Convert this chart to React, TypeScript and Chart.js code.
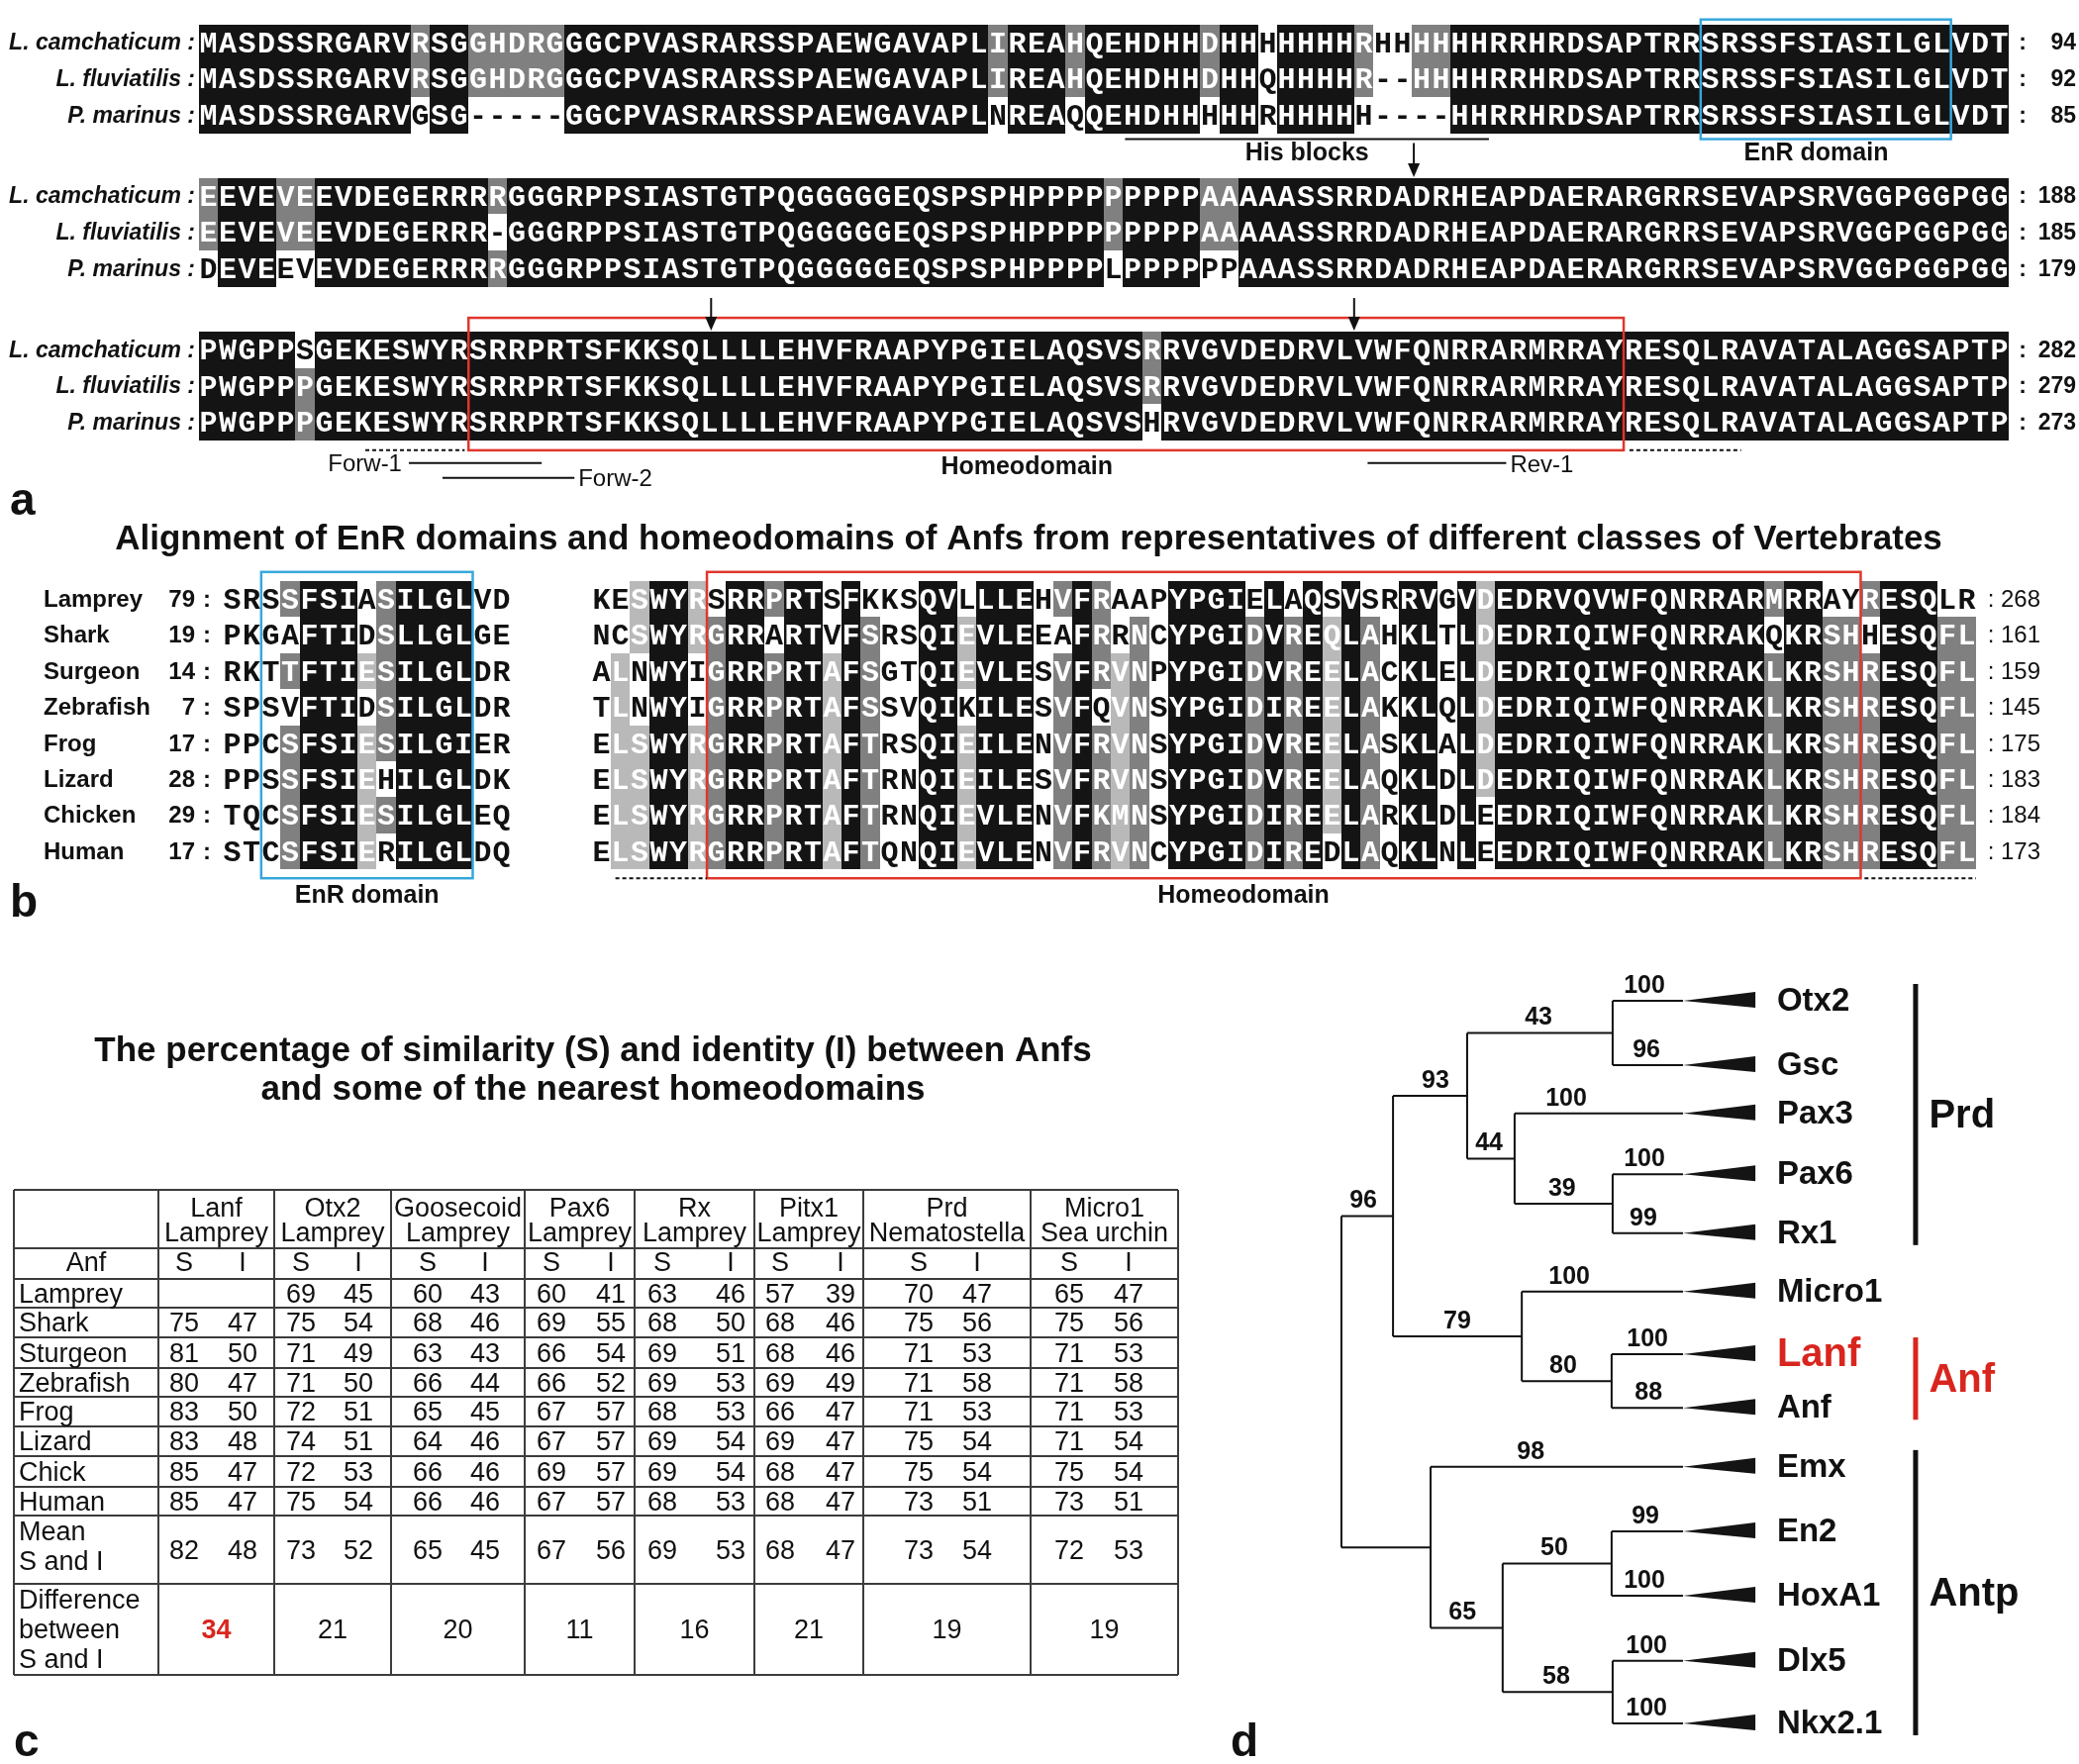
import React, { useEffect, useRef } from 'react';
import { Chart, registerables } from 'chart.js';

Chart.register(...registerables);

const SANS = '"Liberation Sans", Arial, sans-serif';
const MONO = '"Liberation Mono", "Courier New", monospace';
const BLACK = '#141414';
const DARK = '#808080';
const LIGHT = '#b9b9b9';
const RED = '#d8261e';
const BLUE = '#37a7dc';

function rle(spec: string): string {
  let out = '';
  const re = /(\d+)([A-Z.])/g;
  let m: RegExpExecArray | null;
  while ((m = re.exec(spec))) out += m[2].repeat(+m[1]);
  return out;
}

// ---------------- Panel a data ----------------
const aSpecies = ['L. camchaticum :', 'L. fluviatilis :', 'P. marinus :'];
const aBlock1 = [
  ['MASDSSRGARV', 'R', 'SG', 'GHDRG', 'GGCPVASRARSSPAEWGAVAPL', 'I', 'REA', 'H', 'QEHDHH', 'D', 'HH', 'H', 'HHHH', 'R', 'HH', 'HH', 'HHRRHRDSAPTRR', 'SRSSFSIASILGL', 'VDT'].join(''),
  ['MASDSSRGARV', 'R', 'SG', 'GHDRG', 'GGCPVASRARSSPAEWGAVAPL', 'I', 'REA', 'H', 'QEHDHH', 'D', 'HH', 'Q', 'HHHH', 'R', '--', 'HH', 'HHRRHRDSAPTRR', 'SRSSFSIASILGL', 'VDT'].join(''),
  ['MASDSSRGARV', 'G', 'SG', '-----', 'GGCPVASRARSSPAEWGAVAPL', 'N', 'REA', 'Q', 'QEHDHH', 'H', 'HH', 'R', 'HHHH', 'H', '--', '--', 'HHRRHRDSAPTRR', 'SRSSFSIASILGL', 'VDT'].join(''),
];
const aShade1 = [
  rle('11B1G2B5G22B1G3B1G6B1G2B1.4B1G2.2G29B'),
  rle('11B1G2B5G22B1G3B1G6B1G2B1.4B1G2.2G29B'),
  rle('11B1.2B5.22B1.3B1.6B1.2B1.4B1.2.2.29B'),
];
const aBlock2 = [
  ['E', 'EVE', 'V', 'E', 'EVDEGERRR', 'R', 'GGGRPPSIASTGTPQGGGGGEQSPSPH', 'PPPP', 'P', 'PPPP', 'AA', 'AAASSRRDADRHEAPDAERARGRRSEVAPSRVGGPGGPGG'].join(''),
  ['E', 'EVE', 'V', 'E', 'EVDEGERRR', '-', 'GGGRPPSIASTGTPQGGGGGEQSPSPH', 'PPPP', 'P', 'PPPP', 'AA', 'AAASSRRDADRHEAPDAERARGRRSEVAPSRVGGPGGPGG'].join(''),
  ['D', 'EVE', 'E', 'V', 'EVDEGERRR', 'R', 'GGGRPPSIASTGTPQGGGGGEQSPSPH', 'PPPP', 'L', 'PPPP', 'PP', 'AAASSRRDADRHEAPDAERARGRRSEVAPSRVGGPGGPGG'].join(''),
];
const aShade2 = [
  rle('1G3B2G9B1G31B1G4B2G40B'),
  rle('1G3B2G9B1.31B1G4B2G40B'),
  rle('1.3B2.9B1G31B1.4B2.40B'),
];
const aBlock3 = [
  ['PWGPP', 'S', 'GEKESWYR', 'SRRPRTSFKKSQLLLLEHVFRAAPYPGIELAQSVS', 'R', 'RVGVDEDRVLVWFQNRRARMRRAY', 'RESQLRAVATALAGGSAPTP'].join(''),
  ['PWGPP', 'P', 'GEKESWYR', 'SRRPRTSFKKSQLLLLEHVFRAAPYPGIELAQSVS', 'R', 'RVGVDEDRVLVWFQNRRARMRRAY', 'RESQLRAVATALAGGSAPTP'].join(''),
  ['PWGPP', 'P', 'GEKESWYR', 'SRRPRTSFKKSQLLLLEHVFRAAPYPGIELAQSVS', 'H', 'RVGVDEDRVLVWFQNRRARMRRAY', 'RESQLRAVATALAGGSAPTP'].join(''),
];
const aShade3 = [rle('5B1.43B1G44B'), rle('5B1G43B1G44B'), rle('5B1G43B1.44B')];
const aEnds = [
  [94, 92, 85],
  [188, 185, 179],
  [282, 279, 273],
];
// annotation positions, in alignment columns
const aEnrCols = [78, 91];
const aHisCols = [48.1, 67.0];
const aHisArrowCol = 63.1;
const aHomeoCols = [14, 74];
const aHomeoArrowCols = [26.6, 60.0];
const aDotCols = [
  [8.64, 13.8],
  [74.3, 80.1],
];
const aForw1 = [10.9, 17.8];
const aForw2 = [12.65, 19.5];
const aRev1 = [60.7, 67.9];

// ---------------- Panel b data ----------------
const bTitle = 'Alignment of EnR domains and homeodomains of Anfs from representatives of different classes of Vertebrates';
const bNames = ['Lamprey', 'Shark', 'Surgeon', 'Zebrafish', 'Frog', 'Lizard', 'Chicken', 'Human'];
const bStart = [79, 19, 14, 7, 17, 28, 29, 17];
const bEnd = [268, 161, 159, 145, 175, 183, 184, 173];
const bEnr = ['SRSSFSIASILGLVD', 'PKGAFTIDSLLGLGE', 'RKTTFTIESILGLDR', 'SPSVFTIDSILGLDR', 'PPCSFSIESILGIER', 'PPSSFSIEHILGLDK', 'TQCSFSIESILGLEQ', 'STCSFSIERILGLDQ'];
const bHd = [
  'KESWYR' + 'SRRPRTSFKKSQVLLLEHVFRAAPYPGIELAQSVSRRVGVDEDRVQVWFQNRRARMRRAY' + 'RESQLR',
  'NCSWYR' + 'GRRARTVFSRSQIEVLEEAFRRNCYPGIDVREQLAHKLTLDEDRIQIWFQNRRAKQKRSH' + 'HESQFL',
  'ALNWYI' + 'GRRPRTAFSGTQIEVLESVFRVNPYPGIDVREELACKLELDEDRIQIWFQNRRAKLKRSH' + 'RESQFL',
  'TLNWYI' + 'GRRPRTAFSSVQIKILESVFQVNSYPGIDIREELAKKLQLDEDRIQIWFQNRRAKLKRSH' + 'RESQFL',
  'ELSWYR' + 'GRRPRTAFTRSQIEILENVFRVNSYPGIDVREELASKLALDEDRIQIWFQNRRAKLKRSH' + 'RESQFL',
  'ELSWYR' + 'GRRPRTAFTRNQIEILESVFRVNSYPGIDVREELAQKLDLDEDRIQIWFQNRRAKLKRSH' + 'RESQFL',
  'ELSWYR' + 'GRRPRTAFTRNQIEVLENVFKMNSYPGIDIREELARKLDLEEDRIQIWFQNRRAKLKRSH' + 'RESQFL',
  'ELSWYR' + 'GRRPRTAFTQNQIEVLENVFRVNCYPGIDIREDLAQKLNLEEDRIQIWFQNRRAKLKRSH' + 'RESQFL',
];
const K8 = 'BBBBBBBB';
const W8 = '........';
// shading per column (8 rows each)
const bEnrShadeCols = [W8, W8, W8, 'G.G.GGGG', K8, K8, K8, '..L.LLLL', 'GGGGG.G.', K8, K8, K8, K8, W8, W8];
const bHdShadeCols = [
  W8, '..LLLLLL', 'LL..LLLL', K8, K8, 'LL..LLLL', '.GGGGGGG', K8, K8, 'G.GGGGGG',
  K8, K8, '..LLLLLL', K8, '.GGGGGGG', W8, W8, K8, K8, '.LL.LLLL',
  K8, K8, K8, W8, 'G.GGGGGG', K8, 'GGG.GGGG', '..LLLLLL', '.GGGGGGG', W8,
  K8, K8, K8, K8, '.GGGGGGG', K8, '.GGGGGGG', K8, '.LLLLLL.', K8,
  '.GGGGGGG', W8, K8, K8, W8, K8, 'LLLLLL..',
  K8, K8, K8, K8, K8, K8, K8, K8, K8, K8, K8, K8, K8, K8,
  'G.GGGGGG', K8, K8, '.GGGGGGG', '.GGGGGGG', 'G.GGGGGG', K8, K8, K8, '.GGGGGGG', '.GGGGGGG',
];
const bEnrBoxCols = [2, 13];
const bHomeoBoxCols = [6, 66];
const bDotCols = [
  [1.24, 6],
  [66.2, 72],
];

// ---------------- Panel c data ----------------
const cTitle = ['The percentage of similarity (S) and identity (I) between Anfs', 'and some of the nearest homeodomains'];
const tHeadTop = ['Lanf', 'Otx2', 'Goosecoid', 'Pax6', 'Rx', 'Pitx1', 'Prd', 'Micro1'];
const tHeadBottom = ['Lamprey', 'Lamprey', 'Lamprey', 'Lamprey', 'Lamprey', 'Lamprey', 'Nematostella', 'Sea urchin'];
const tRowNames = ['Lamprey', 'Shark', 'Sturgeon', 'Zebrafish', 'Frog', 'Lizard', 'Chick', 'Human'];
const tSim = [
  [null, 69, 60, 60, 63, 57, 70, 65],
  [75, 75, 68, 69, 68, 68, 75, 75],
  [81, 71, 63, 66, 69, 68, 71, 71],
  [80, 71, 66, 66, 69, 69, 71, 71],
  [83, 72, 65, 67, 68, 66, 71, 71],
  [83, 74, 64, 67, 69, 69, 75, 71],
  [85, 72, 66, 69, 69, 68, 75, 75],
  [85, 75, 66, 67, 68, 68, 73, 73],
];
const tIdt = [
  [null, 45, 43, 41, 46, 39, 47, 47],
  [47, 54, 46, 55, 50, 46, 56, 56],
  [50, 49, 43, 54, 51, 46, 53, 53],
  [47, 50, 44, 52, 53, 49, 58, 58],
  [50, 51, 45, 57, 53, 47, 53, 53],
  [48, 51, 46, 57, 54, 47, 54, 54],
  [47, 53, 46, 57, 54, 47, 54, 54],
  [47, 54, 46, 57, 53, 47, 51, 51],
];
const tMeanS = [82, 73, 65, 67, 69, 68, 73, 72];
const tMeanI = [48, 52, 45, 56, 53, 47, 54, 53];
const tDiff = [34, 21, 20, 11, 16, 21, 19, 19];

// ---------------- Panel d data ----------------
const leafNames = ['Otx2', 'Gsc', 'Pax3', 'Pax6', 'Rx1', 'Micro1', 'Lanf', 'Anf', 'Emx', 'En2', 'HoxA1', 'Dlx5', 'Nkx2.1'];
const leafPos = [0, 1.07, 1.87, 2.88, 3.86, 4.83, 5.87, 6.76, 7.74, 8.81, 9.88, 10.96, 12];
const LEAF_TIP = 10;
const nodeIds = ['OG', 'PR', 'P3', 'B', 'LA', 'M', 'A', 'EH', 'DN', 'EHDN', 'ANTP', 'ROOT'];
const nodeDepth = [7.94, 7.94, 5.07, 3.68, 7.91, 5.28, 1.51, 7.91, 7.94, 4.72, 2.61, 0];
const nodeKids = [
  ['Otx2', 'Gsc'],
  ['Pax6', 'Rx1'],
  ['Pax3', 'PR'],
  ['OG', 'P3'],
  ['Lanf', 'Anf'],
  ['Micro1', 'LA'],
  ['B', 'M'],
  ['En2', 'HoxA1'],
  ['Dlx5', 'Nkx2.1'],
  ['EH', 'DN'],
  ['Emx', 'EHDN'],
  ['A', 'ANTP'],
];
const bsChild = ['Otx2', 'Gsc', 'OG', 'B', 'Pax3', 'P3', 'Pax6', 'PR', 'Rx1', 'A', 'Micro1', 'M', 'Lanf', 'LA', 'Anf', 'Emx', 'En2', 'EH', 'HoxA1', 'EHDN', 'Dlx5', 'DN', 'Nkx2.1'];
const bsValue = [100, 96, 43, 93, 100, 44, 100, 39, 99, 96, 100, 79, 100, 80, 88, 98, 99, 50, 100, 65, 100, 58, 100];
const bsAt = [8.87, 8.93, 5.77, 2.75, 6.58, 4.32, 8.87, 6.46, 8.84, 0.64, 6.67, 3.39, 8.96, 6.49, 8.99, 5.54, 8.9, 6.23, 8.87, 3.54, 8.93, 6.29, 8.93];
const cladeNames = ['Prd', 'Anf', 'Antp'];
const cladeFirst = ['Otx2', 'Lanf', 'Emx'];
const cladeLast = ['Rx1', 'Anf', 'Nkx2.1'];
const cladeRed = [false, true, false];

// ---------------- helpers ----------------
function shadeFill(s: string): string | null {
  if (s === 'B') return BLACK;
  if (s === 'G') return DARK;
  if (s === 'L') return LIGHT;
  return null;
}

function drawSeqRow(ctx: CanvasRenderingContext2D, seq: string, shade: string, X: (v: number) => number, off: number, y0: number, y1: number, size: number) {
  const xs: number[] = [];
  for (let i = 0; i <= seq.length; i++) xs.push(Math.round(X(off + i)));
  for (let i = 0; i < seq.length; i++) {
    const f = shadeFill(shade[i]);
    if (f) {
      ctx.fillStyle = f;
      ctx.fillRect(xs[i], y0, xs[i + 1] - xs[i], y1 - y0);
    }
  }
  ctx.font = `bold ${size}px ${MONO}`;
  ctx.textAlign = 'center';
  ctx.textBaseline = 'middle';
  for (let i = 0; i < seq.length; i++) {
    const f = shadeFill(shade[i]);
    ctx.fillStyle = f ? '#ffffff' : '#111111';
    ctx.fillText(seq[i], (xs[i] + xs[i + 1]) / 2, (y0 + y1) / 2 + 2);
  }
}

function line(ctx: CanvasRenderingContext2D, x0: number, y0: number, x1: number, y1: number) {
  ctx.beginPath();
  ctx.moveTo(x0, y0);
  ctx.lineTo(x1, y1);
  ctx.stroke();
}

function arrowDown(ctx: CanvasRenderingContext2D, x: number, yTop: number, yTip: number) {
  ctx.strokeStyle = '#111';
  ctx.fillStyle = '#111';
  ctx.lineWidth = 2;
  line(ctx, x, yTop, x, yTip - 10);
  ctx.beginPath();
  ctx.moveTo(x - 6, yTip - 14);
  ctx.lineTo(x + 6, yTip - 14);
  ctx.lineTo(x, yTip);
  ctx.closePath();
  ctx.fill();
}

function text(ctx: CanvasRenderingContext2D, s: string, x: number, y: number, font: string, align: CanvasTextAlign = 'left', color = '#111', baseline: CanvasTextBaseline = 'middle') {
  ctx.font = font;
  ctx.fillStyle = color;
  ctx.textAlign = align;
  ctx.textBaseline = baseline;
  ctx.fillText(s, x, y);
}

function makeConfig(pad: any, xr: number[], yr: number[], plugin: any, datasets: any[] = []): any {
  return {
    type: 'scatter',
    data: { datasets },
    options: {
      responsive: false,
      animation: false,
      devicePixelRatio: 1,
      events: [],
      layout: { padding: pad },
      plugins: { legend: { display: false }, tooltip: { enabled: false }, title: { display: false } },
      scales: {
        x: { type: 'linear', display: false, min: xr[0], max: xr[1] },
        y: { type: 'linear', display: false, min: yr[0], max: yr[1], reverse: true },
      },
    },
    plugins: [plugin],
  };
}

// ---------------- Panel a ----------------
const A_GAP = 4.24;
const A_H = 525;
const panelAPlugin = {
  id: 'panelA',
  afterDraw(chart: any) {
    const ctx: CanvasRenderingContext2D = chart.ctx;
    const X = (v: number) => chart.scales.x.getPixelForValue(v);
    const Y = (v: number) => chart.scales.y.getPixelForValue(v);
    ctx.save();
    const blocks = [aBlock1, aBlock2, aBlock3];
    const shades = [aShade1, aShade2, aShade3];
    for (let k = 0; k < 3; k++) {
      for (let r = 0; r < 3; r++) {
        const yv = k * A_GAP + r;
        const y0 = Math.round(Y(yv - 0.5));
        const y1 = Math.round(Y(yv + 0.5));
        const ym = (y0 + y1) / 2 + 1;
        drawSeqRow(ctx, blocks[k][r], shades[k][r], X, 0, y0, y1, 30);
        text(ctx, aSpecies[r], 197, ym, `italic bold 23px ${SANS}`, 'right');
        text(ctx, ':', X(94) + 14, ym, `bold 23px ${SANS}`, 'center');
        text(ctx, String(aEnds[k][r]), 2097, ym, `bold 23px ${SANS}`, 'right');
      }
    }
    const top = (k: number) => Y(k * A_GAP - 0.5);
    const bot = (k: number) => Y(k * A_GAP + 2.5);
    // EnR domain box
    ctx.strokeStyle = BLUE;
    ctx.lineWidth = 2.5;
    ctx.strokeRect(X(aEnrCols[0]), top(0) - 5, X(aEnrCols[1]) - X(aEnrCols[0]), bot(0) - top(0) + 11);
    text(ctx, 'EnR domain', X(84), bot(0) + 21, `bold 25px ${SANS}`, 'center');
    // His blocks
    ctx.strokeStyle = '#111';
    ctx.lineWidth = 2;
    line(ctx, X(aHisCols[0]), bot(0) + 6, X(aHisCols[1]), bot(0) + 6);
    text(ctx, 'His blocks', X((aHisCols[0] + aHisCols[1]) / 2), bot(0) + 21, `bold 25px ${SANS}`, 'center');
    arrowDown(ctx, X(aHisArrowCol), bot(0) + 10, top(1) - 1);
    // Homeodomain box
    ctx.strokeStyle = '#e0362c';
    ctx.lineWidth = 2.5;
    ctx.strokeRect(X(aHomeoCols[0]), top(2) - 14, X(aHomeoCols[1]) - X(aHomeoCols[0]), bot(2) - top(2) + 24);
    for (const c of aHomeoArrowCols) arrowDown(ctx, X(c), top(2) - 34, top(2) - 1);
    // dotted flanks
    ctx.strokeStyle = '#111';
    ctx.lineWidth = 2;
    ctx.setLineDash([4, 3]);
    for (const d of aDotCols) line(ctx, X(d[0]), bot(2) + 10, X(d[1]), bot(2) + 10);
    ctx.setLineDash([]);
    // primers
    const yP1 = bot(2) + 23;
    const yP2 = bot(2) + 38;
    line(ctx, X(aForw1[0]), yP1, X(aForw1[1]), yP1);
    text(ctx, 'Forw-1', X(aForw1[0]) - 7, yP1 + 2, `24px ${SANS}`, 'right');
    line(ctx, X(aForw2[0]), yP2, X(aForw2[1]), yP2);
    text(ctx, 'Forw-2', X(aForw2[1]) + 4, yP2 + 2, `24px ${SANS}`, 'left');
    line(ctx, X(aRev1[0]), yP1, X(aRev1[1]), yP1);
    text(ctx, 'Rev-1', X(aRev1[1]) + 4, yP1 + 3, `24px ${SANS}`, 'left');
    text(ctx, 'Homeodomain', X(43), bot(2) + 27, `bold 25px ${SANS}`, 'center');
    text(ctx, 'a', 10, 520, `bold 46px ${SANS}`, 'left', '#111', 'alphabetic');
    ctx.restore();
  },
};

// ---------------- Panel b ----------------
const B_TOP = 525;
const B_H = 410;
const B_OFF = 19.18;
const panelBPlugin = {
  id: 'panelB',
  afterDraw(chart: any) {
    const ctx: CanvasRenderingContext2D = chart.ctx;
    const X = (v: number) => chart.scales.x.getPixelForValue(v);
    const Y = (v: number) => chart.scales.y.getPixelForValue(v);
    ctx.save();
    text(ctx, bTitle, 1039, 545 - B_TOP, `bold 35px ${SANS}`, 'center');
    for (let r = 0; r < bNames.length; r++) {
      const y0 = Math.round(Y(r - 0.5));
      const y1 = Math.round(Y(r + 0.5));
      const ym = (y0 + y1) / 2 + 1;
      const sl = bEnrShadeCols.map((c) => c[r]).join('');
      const sr = bHdShadeCols.map((c) => c[r]).join('');
      drawSeqRow(ctx, bEnr[r], sl, X, 0, y0, y1, 30);
      drawSeqRow(ctx, bHd[r], sr, X, B_OFF, y0, y1, 30);
      text(ctx, bNames[r], 44, ym, `bold 24px ${SANS}`, 'left');
      text(ctx, String(bStart[r]), 197, ym, `bold 24px ${SANS}`, 'right');
      text(ctx, ':', 209, ym, `bold 24px ${SANS}`, 'center');
      text(ctx, ':', X(B_OFF + 72) + 15, ym, `24px ${SANS}`, 'center');
      text(ctx, String(bEnd[r]), X(B_OFF + 72) + 25, ym, `24px ${SANS}`, 'left');
    }
    const yTop = Y(-0.5) - 9;
    const yBot = Y(bNames.length - 0.5) + 9;
    ctx.lineWidth = 2.5;
    ctx.strokeStyle = BLUE;
    ctx.strokeRect(X(bEnrBoxCols[0]), yTop, X(bEnrBoxCols[1]) - X(bEnrBoxCols[0]), yBot - yTop);
    ctx.strokeStyle = '#e0362c';
    ctx.strokeRect(X(B_OFF + bHomeoBoxCols[0]), yTop, X(B_OFF + bHomeoBoxCols[1]) - X(B_OFF + bHomeoBoxCols[0]), yBot - yTop);
    ctx.strokeStyle = '#111';
    ctx.lineWidth = 2;
    ctx.setLineDash([4, 3]);
    for (const d of bDotCols) line(ctx, X(B_OFF + d[0]), yBot, X(B_OFF + d[1]), yBot);
    ctx.setLineDash([]);
    text(ctx, 'EnR domain', X((bEnrBoxCols[0] + bEnrBoxCols[1]) / 2), yBot + 18, `bold 25px ${SANS}`, 'center');
    text(ctx, 'Homeodomain', X(B_OFF + 33.9), yBot + 18, `bold 25px ${SANS}`, 'center');
    text(ctx, 'b', 10, 926 - B_TOP, `bold 46px ${SANS}`, 'left', '#111', 'alphabetic');
    ctx.restore();
  },
};

// ---------------- Panel c ----------------
const C_TOP = 935;
const tColX = [14, 160, 277, 395, 530, 641, 762, 872, 1041, 1190];
const tRowY = [1202, 1261, 1292, 1321, 1351, 1382, 1411, 1441, 1471, 1502, 1531, 1600, 1692];
const tSOff = [26, 27, 37, 27, 28, 26, 56, 39];
const tIOff = [85, 85, 95, 87, 97, 87, 115, 99];
const panelCPlugin = {
  id: 'panelC',
  afterDraw(chart: any) {
    const ctx: CanvasRenderingContext2D = chart.ctx;
    const py = (v: number) => v - C_TOP;
    ctx.save();
    text(ctx, cTitle[0], 599, py(1062), `bold 35px ${SANS}`, 'center');
    text(ctx, cTitle[1], 599, py(1101), `bold 35px ${SANS}`, 'center');
    ctx.strokeStyle = '#3c3c3c';
    ctx.lineWidth = 2;
    for (const y of tRowY) line(ctx, tColX[0], py(y), tColX[tColX.length - 1], py(y));
    for (const x of tColX) line(ctx, x, py(tRowY[0]), x, py(tRowY[tRowY.length - 1]));
    const F = `27px ${SANS}`;
    for (let j = 0; j < tHeadTop.length; j++) {
      const cx = (tColX[j + 1] + tColX[j + 2]) / 2;
      text(ctx, tHeadTop[j], cx, py(1222), F, 'center');
      text(ctx, tHeadBottom[j], cx, py(1247), F, 'center');
      text(ctx, 'S', tColX[j + 1] + tSOff[j], py(1277), F, 'center');
      text(ctx, 'I', tColX[j + 1] + tIOff[j], py(1277), F, 'center');
    }
    text(ctx, 'Anf', (tColX[0] + tColX[1]) / 2, py(1277), F, 'center');
    for (let i = 0; i < tRowNames.length; i++) {
      const y = py((tRowY[i + 2] + tRowY[i + 3]) / 2 + 2);
      text(ctx, tRowNames[i], 19, y, F, 'left');
      for (let j = 0; j < tHeadTop.length; j++) {
        const s = tSim[i][j];
        const d = tIdt[i][j];
        if (s !== null) text(ctx, String(s), tColX[j + 1] + tSOff[j], y, F, 'center');
        if (d !== null) text(ctx, String(d), tColX[j + 1] + tIOff[j], y, F, 'center');
      }
    }
    const yMean = py((tRowY[10] + tRowY[11]) / 2 + 2);
    text(ctx, 'Mean', 19, py(1549), F, 'left');
    text(ctx, 'S and I', 19, py(1579), F, 'left');
    for (let j = 0; j < tHeadTop.length; j++) {
      text(ctx, String(tMeanS[j]), tColX[j + 1] + tSOff[j], yMean, F, 'center');
      text(ctx, String(tMeanI[j]), tColX[j + 1] + tIOff[j], yMean, F, 'center');
    }
    text(ctx, 'Difference', 19, py(1618), F, 'left');
    text(ctx, 'between', 19, py(1648), F, 'left');
    text(ctx, 'S and I', 19, py(1678), F, 'left');
    const yDiff = py((tRowY[11] + tRowY[12]) / 2 + 2);
    for (let j = 0; j < tDiff.length; j++) {
      const cx = (tColX[j + 1] + tColX[j + 2]) / 2;
      text(ctx, String(tDiff[j]), cx, yDiff, j === 0 ? `bold 27px ${SANS}` : F, 'center', j === 0 ? RED : '#111');
    }
    text(ctx, 'c', 14, py(1774), `bold 46px ${SANS}`, 'left', '#111', 'alphabetic');
    ctx.restore();
  },
};

// ---------------- Panel d ----------------
const D_LEFT = 1240;
const D_TOP = 935;
function treeLayout() {
  const pos: Record<string, { x: number; y: number }> = {};
  leafNames.forEach((n, i) => (pos[n] = { x: LEAF_TIP, y: leafPos[i] }));
  nodeIds.forEach((id, i) => {
    const ks = nodeKids[i].map((k) => pos[k]);
    pos[id] = { x: nodeDepth[i], y: ks.reduce((s, p) => s + p.y, 0) / ks.length };
  });
  return pos;
}
function treeDatasets() {
  const pos = treeLayout();
  const ds: any[] = [];
  const seg = (pts: { x: number; y: number }[]) => ({
    data: pts,
    showLine: true,
    borderColor: '#111',
    borderWidth: 2,
    pointRadius: 0,
    clip: false,
    fill: false,
  });
  nodeIds.forEach((id, i) => {
    const p = pos[id];
    const ys = nodeKids[i].map((k) => pos[k].y);
    ds.push(seg([{ x: p.x, y: Math.min(...ys) }, { x: p.x, y: Math.max(...ys) }]));
    nodeKids[i].forEach((k) => ds.push(seg([{ x: p.x, y: pos[k].y }, { x: pos[k].x, y: pos[k].y }])));
  });
  return ds;
}
const panelDPlugin = {
  id: 'panelD',
  afterDraw(chart: any) {
    const ctx: CanvasRenderingContext2D = chart.ctx;
    const X = (v: number) => chart.scales.x.getPixelForValue(v);
    const Y = (v: number) => chart.scales.y.getPixelForValue(v);
    const pos = treeLayout();
    ctx.save();
    leafNames.forEach((n, i) => {
      const y = Y(leafPos[i]);
      ctx.fillStyle = BLACK;
      ctx.beginPath();
      ctx.moveTo(X(LEAF_TIP), y);
      ctx.lineTo(X(12.12), y - 9);
      ctx.lineTo(X(12.12), y + 7);
      ctx.closePath();
      ctx.fill();
      const isRed = n === 'Lanf';
      text(ctx, n, X(12.75), y + 1, `bold ${isRed ? 40 : 33}px ${SANS}`, 'left', isRed ? RED : '#111');
    });
    bsChild.forEach((c, i) => {
      text(ctx, String(bsValue[i]), X(bsAt[i]), Y(pos[c].y) - 15, `bold 25px ${SANS}`, 'center');
    });
    cladeNames.forEach((name, i) => {
      const y0 = Y(pos[cladeFirst[i]].y) - 17;
      const y1 = Y(pos[cladeLast[i]].y) + 12;
      const col = cladeRed[i] ? RED : '#111';
      ctx.fillStyle = col;
      ctx.fillRect(X(16.81) - 2.5, y0, 5, y1 - y0);
      text(ctx, name, X(17.2), (y0 + y1) / 2 + 2, `bold 40px ${SANS}`, 'left', col);
    });
    text(ctx, 'd', 3, 1774 - D_TOP, `bold 46px ${SANS}`, 'left', '#111', 'alphabetic');
    ctx.restore();
  },
};

// ---------------- components ----------------
function ChartPanel({ left, top, width, height, make }: { left: number; top: number; width: number; height: number; make: () => any }) {
  const ref = useRef<HTMLCanvasElement | null>(null);
  useEffect(() => {
    const chart = new Chart(ref.current as HTMLCanvasElement, make());
    return () => chart.destroy();
  }, []);
  return <canvas ref={ref} width={width} height={height} style={{ position: 'absolute', left, top, width, height, display: 'block' }} />;
}

export default function App() {
  const aPadTop = 24.7;
  const aUnit = 36.6;
  const aYMax = 2 * A_GAP + 2.5;
  const aBottom = A_H - (aPadTop + (aYMax + 0.5) * aUnit);
  const bRowTop = 605 - B_TOP - 18.2;
  const bRowBot = 605 - B_TOP + 7 * 36.43 + 18.2;
  return (
    <div style={{ position: 'fixed', left: 0, top: 0, width: 2100, height: 1782, background: '#ffffff', overflow: 'hidden' }}>
      <ChartPanel
        left={0}
        top={0}
        width={2100}
        height={A_H}
        make={() => makeConfig({ left: 201, right: 2100 - 2029, top: aPadTop, bottom: aBottom }, [0, 94], [-0.5, aYMax], panelAPlugin)}
      />
      <ChartPanel
        left={0}
        top={B_TOP}
        width={2100}
        height={B_H}
        make={() => makeConfig({ left: 225, right: 2100 - 1996, top: bRowTop, bottom: B_H - bRowBot }, [0, B_OFF + 72], [-0.5, 7.5], panelBPlugin)}
      />
      <ChartPanel
        left={0}
        top={C_TOP}
        width={1240}
        height={1782 - C_TOP}
        make={() => makeConfig({ left: 0, right: 0, top: 0, bottom: 0 }, [0, 1], [0, 1], panelCPlugin)}
      />
      <ChartPanel
        left={D_LEFT}
        top={D_TOP}
        width={2100 - D_LEFT}
        height={1782 - D_TOP}
        make={() =>
          makeConfig(
            { left: 1355 - D_LEFT, right: 2100 - 1700, top: 1011 - D_TOP, bottom: 1782 - 1741 },
            [0, LEAF_TIP],
            [0, 12],
            panelDPlugin,
            treeDatasets()
          )
        }
      />
    </div>
  );
}
